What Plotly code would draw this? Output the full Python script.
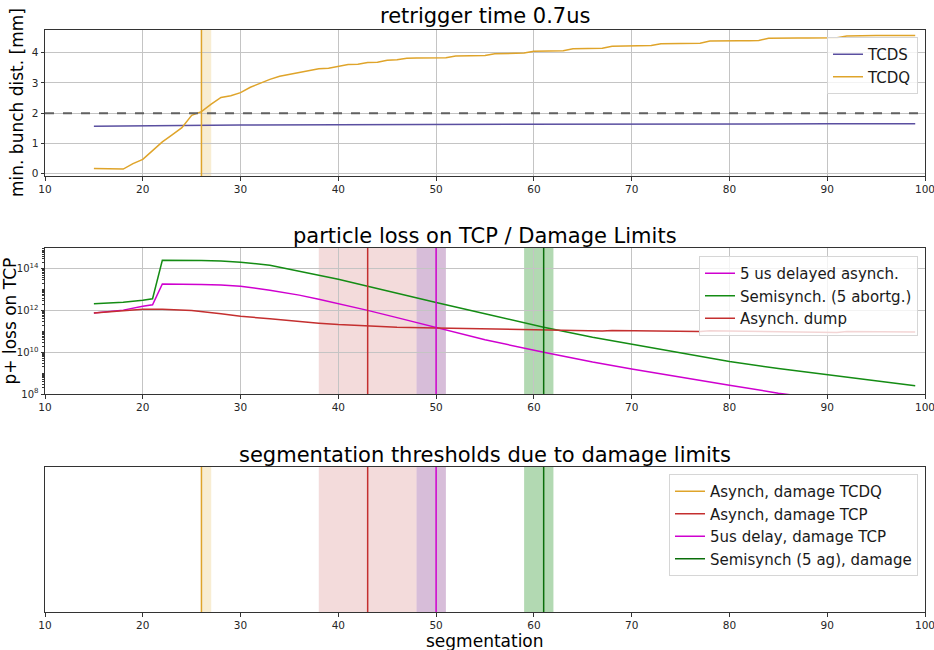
import plotly.graph_objects as go

# ---------------- panel 1: retrigger time 0.7us ----------------
seg_tcdq = list(range(15, 100))
tcdq_dist = [
    0.17, 0.16, 0.155, 0.15, 0.33, 0.47, 0.76, 1.05, 1.28, 1.52,
    1.93, 2.05, 2.30, 2.52, 2.58, 2.68, 2.86, 3.00, 3.12, 3.22,
    3.28, 3.34, 3.40, 3.47, 3.49, 3.55, 3.61, 3.62, 3.68, 3.69,
    3.75, 3.77, 3.82, 3.83, 3.83, 3.83, 3.84, 3.89, 3.90, 3.90,
    3.91, 3.97, 3.98, 3.98, 3.99, 4.05, 4.06, 4.06, 4.07, 4.13,
    4.14, 4.14, 4.15, 4.22, 4.23, 4.23, 4.23, 4.24, 4.30, 4.31,
    4.31, 4.31, 4.32, 4.39, 4.40, 4.40, 4.40, 4.40, 4.41, 4.48,
    4.49, 4.49, 4.49, 4.49, 4.49, 4.49, 4.50, 4.56, 4.57, 4.57,
    4.57, 4.57, 4.57, 4.57, 4.57,
]
seg_tcds = [15, 20, 25, 30, 40, 50, 60, 70, 80, 90, 99]
tcds_dist = [1.57, 1.59, 1.60, 1.61, 1.62, 1.63, 1.635, 1.64, 1.645, 1.65, 1.65]
dist_limit = 2.0

# ---------------- panel 2: particle loss on TCP ----------------
seg_delayed = [15, 18, 20, 21, 22, 24, 26, 28, 30, 33, 36, 38, 40, 43, 46,
               50, 55, 61, 66, 70, 75, 80, 85, 90, 95, 99]
loss_delayed = [7.6e11, 1.05e12, 1.6e12, 1.9e12, 1.9e13, 1.9e13, 1.8e13, 1.66e13,
                1.45e13, 9.5e12, 5.5e12, 3.5e12, 2.2e12, 1.02e12, 4.6e11,
                1.55e11, 4.0e10, 1.0e10, 3.4e9, 1.6e9, 6.3e8, 2.6e8, 1.1e8,
                5.2e7, 2.5e7, 1.4e7]

seg_semi = [15, 18, 20, 21, 22, 24, 26, 28, 30, 33, 36, 38, 40, 43, 46,
            50, 55, 61, 66, 70, 75, 80, 85, 90, 95, 99]
loss_semi = [2.1e12, 2.5e12, 3.1e12, 3.7e12, 2.6e14, 2.6e14, 2.5e14, 2.35e14,
             2.1e14, 1.5e14, 7.9e13, 5.2e13, 3.2e13, 1.45e13, 6.6e12,
             2.45e12, 7.1e11, 1.6e11, 5.2e10, 2.45e10, 8.9e9, 3.6e9, 1.66e9,
             8.3e8, 4.3e8, 2.5e8]

seg_async = [15, 17, 20, 22, 25, 28, 30, 33, 36, 38, 40, 43, 46, 50, 55, 61,
             67, 68, 72, 77, 78, 85, 91, 92, 99]
loss_async = [7.6e11, 9.3e11, 1.17e12, 1.15e12, 1.0e12, 7.1e11, 5.4e11, 4.0e11,
              2.95e11, 2.5e11, 2.15e11, 1.8e11, 1.6e11, 1.45e11, 1.3e11, 1.2e11,
              1.05e11, 1.12e11, 1.07e11, 9.8e10, 1.07e11, 9.8e10, 8.9e10, 9.8e10,
              9.3e10]

# ---------------- damage-limit thresholds ----------------
thr_names = ["Asynch, damage TCDQ", "Asynch, damage TCP",
             "5us delay, damage TCP", "Semisynch (5 ag), damage"]
thr_seg = [26, 43, 50, 61]
thr_lo = [26, 38, 48, 59]
thr_hi = [27, 48, 51, 62]

C_TCDS = "#5a4fa0"
C_TCDQ = "#dfa42a"
C_RED = "#c42f2f"
C_MAG = "#cf00cf"
C_GRN = "#148c14"
thr_line_colors = [C_TCDQ, C_RED, C_MAG, "#0a6e0a"]
thr_fill_colors = ["rgba(218,165,32,0.2)", "rgba(178,34,34,0.16)",
                   "rgba(122,35,128,0.3)", "rgba(0,128,0,0.3)"]

FONT = "DejaVu Sans"
fig = go.Figure()

# panel 1 traces
fig.add_trace(go.Scatter(x=seg_tcds, y=tcds_dist, mode="lines", name="TCDS",
                         line=dict(color=C_TCDS, width=1.5),
                         xaxis="x", yaxis="y", legend="legend"))
fig.add_trace(go.Scatter(x=seg_tcdq, y=tcdq_dist, mode="lines", name="TCDQ",
                         line=dict(color=C_TCDQ, width=1.5),
                         xaxis="x", yaxis="y", legend="legend"))

# panel 2 traces
fig.add_trace(go.Scatter(x=seg_delayed, y=loss_delayed, mode="lines",
                         name="5 us delayed asynch.",
                         line=dict(color=C_MAG, width=1.5),
                         xaxis="x2", yaxis="y2", legend="legend2"))
fig.add_trace(go.Scatter(x=seg_semi, y=loss_semi, mode="lines",
                         name="Semisynch. (5 abortg.)",
                         line=dict(color=C_GRN, width=1.5),
                         xaxis="x2", yaxis="y2", legend="legend2"))
fig.add_trace(go.Scatter(x=seg_async, y=loss_async, mode="lines",
                         name="Asynch. dump",
                         line=dict(color=C_RED, width=1.5),
                         xaxis="x2", yaxis="y2", legend="legend2"))

# panel 3: threshold lines with legend
for name, s, col in zip(thr_names, thr_seg, thr_line_colors):
    fig.add_trace(go.Scatter(x=[s, s], y=[0, 1], mode="lines", name=name,
                             line=dict(color=col, width=1.5),
                             xaxis="x3", yaxis="y3", legend="legend3"))

shapes = []


def span(xref, yref, lo, hi, color):
    shapes.append(dict(type="rect", xref=xref, yref=yref + " domain",
                       x0=lo, x1=hi, y0=0, y1=1, fillcolor=color,
                       line=dict(width=0), layer="below"))


def vline(xref, yref, s, color):
    shapes.append(dict(type="line", xref=xref, yref=yref + " domain",
                       x0=s, x1=s, y0=0, y1=1,
                       line=dict(color=color, width=1.5)))


# panel 1: TCDQ threshold
span("x", "y", thr_lo[0], thr_hi[0], thr_fill_colors[0])
vline("x", "y", thr_seg[0], thr_line_colors[0])
shapes.append(dict(type="line", xref="x domain", yref="y", x0=0, x1=1,
                   y0=dist_limit, y1=dist_limit,
                   line=dict(color="#606060", width=2, dash="dash")))

# panel 2: TCP thresholds
for i in range(1, 4):
    span("x2", "y2", thr_lo[i], thr_hi[i], thr_fill_colors[i])
    vline("x2", "y2", thr_seg[i], thr_line_colors[i])

# panel 3: all spans
for i in range(4):
    span("x3", "y3", thr_lo[i], thr_hi[i], thr_fill_colors[i])

W, H = 934, 650
xdom = [45 / W, 925 / W]


def ydom(top_px, bot_px):
    return [1 - bot_px / H, 1 - top_px / H]


axis_common = dict(showline=True, linecolor="#333333", linewidth=1, mirror=True,
                   ticks="outside", ticklen=3.5, tickcolor="#333333",
                   tickfont=dict(family=FONT, size=10.5, color="#262626"),
                   zeroline=False, automargin=False)
grid = dict(showgrid=True, gridcolor="#c4c4c4", gridwidth=0.8)

xt = dict(range=[10, 100], tickvals=list(range(10, 101, 10)), domain=xdom,
          ticklabeloverflow="allow")

minor_vals = [k * 10 ** e for e in range(8, 15) for k in range(2, 10)] + \
             [10 ** e for e in (9, 11, 13, 15)]

log_axis = {**axis_common, **grid}
log_axis.update(
    type="log", range=[8, 15],
    tickvals=[1e8, 1e10, 1e12, 1e14],
    ticktext=["10<sup>8</sup>", "10<sup>10</sup>",
              "10<sup>12</sup>", "10<sup>14</sup>"],
    tickfont=dict(family=FONT, size=10, color="#262626"),
    minor=dict(tickvals=minor_vals, ticks="outside", ticklen=2,
               tickcolor="#333333", showgrid=False),
    domain=ydom(248, 394), anchor="x2",
)

legend_style = dict(bgcolor="rgba(255,255,255,0.8)", bordercolor="#d6d6d6",
                    borderwidth=1, font=dict(family=FONT, size=15, color="#1a1a1a"),
                    xanchor="right", yanchor="top", tracegroupgap=0,
                    itemwidth=30)

fig.update_layout(
    width=W, height=H,
    margin=dict(l=0, r=0, t=0, b=0, autoexpand=False),
    paper_bgcolor="white", plot_bgcolor="white",
    font=dict(family=FONT, color="#1a1a1a"),
    shapes=shapes,
    xaxis=dict(**axis_common, **grid, **xt, anchor="y"),
    yaxis=dict(**axis_common, **grid, range=[-0.08, 4.755],
               tickvals=[0, 1, 2, 3, 4], domain=ydom(30, 176), anchor="x"),
    xaxis2=dict(**axis_common, **grid, **xt, anchor="y2"),
    yaxis2=log_axis,
    xaxis3=dict(**axis_common, showgrid=False, **xt, anchor="y3"),
    yaxis3=dict(showline=True, linecolor="#333333", linewidth=1, mirror=True,
                showgrid=False, zeroline=False, showticklabels=False,
                automargin=False, ticks="", range=[0, 1],
                domain=ydom(467, 612), anchor="x3"),
    legend=dict(**legend_style, x=918 / W, y=1 - 37 / H),
    legend2=dict(**legend_style, x=918 / W, y=1 - 256 / H),
    legend3=dict(**legend_style, x=918 / W, y=1 - 474 / H),
)

title_font = dict(family=FONT, size=21, color="#000000")
label_font = dict(family=FONT, size=17, color="#000000")
annots = [
    dict(text="retrigger time 0.7us", x=485 / W, y=1 - 16 / H, font=title_font),
    dict(text="particle loss on TCP / Damage Limits", x=485 / W, y=1 - 236 / H,
         font=title_font),
    dict(text="segmentation thresholds due to damage limits", x=485 / W,
         y=1 - 455 / H, font=title_font),
    dict(text="segmentation", x=485 / W, y=1 - 641 / H, font=label_font),
    dict(text="min. bunch dist. [mm]", x=17 / W, y=1 - 103 / H, font=label_font,
         textangle=-90),
    dict(text="p+ loss on TCP", x=9.5 / W, y=1 - 321 / H, font=label_font,
         textangle=-90),
]
for a in annots:
    a.update(xref="paper", yref="paper", showarrow=False,
             xanchor="center", yanchor="middle")
fig.update_layout(annotations=annots)

fig.write_html("out.html")
